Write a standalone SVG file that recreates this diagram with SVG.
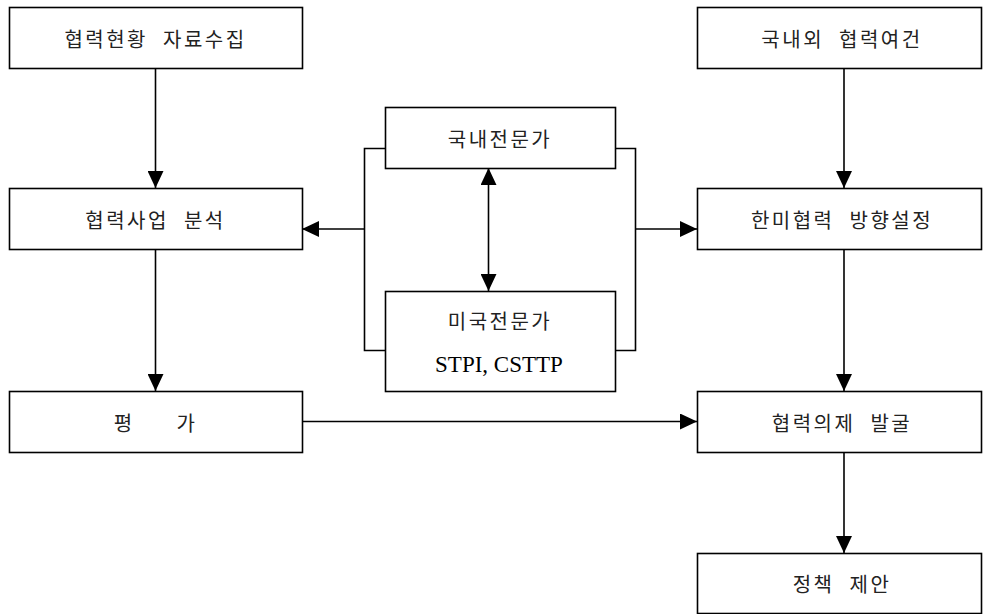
<svg xmlns="http://www.w3.org/2000/svg" width="983" height="614" viewBox="0 0 983 614">
<style>
.box{fill:#fff;stroke:#000;stroke-width:1.6}
.kt{font-family:"Noto Sans CJK KR","Noto Sans",sans-serif;font-size:20px;letter-spacing:2.5px;word-spacing:8px;text-anchor:middle;dominant-baseline:central;fill:#222}
.et{font-family:"Liberation Serif",serif;font-size:23px;text-anchor:middle;fill:#000}
.ln{fill:none;stroke:#000;stroke-width:1.6}
</style>
<defs>
<marker id="ah" markerUnits="userSpaceOnUse" markerWidth="17" markerHeight="16" refX="17" refY="8" orient="auto-start-reverse">
<path d="M0,0 L17,8 L0,16 z" fill="#000"/>
</marker>
</defs>
<rect width="983" height="614" fill="#fff"/>
<g id="connectors">
<line class="ln" x1="155.5" y1="68" x2="155.5" y2="188" marker-end="url(#ah)"/>
<line class="ln" x1="155.5" y1="249" x2="155.5" y2="391" marker-end="url(#ah)"/>
<line class="ln" x1="844" y1="68" x2="844" y2="188" marker-end="url(#ah)"/>
<line class="ln" x1="844" y1="249" x2="844" y2="391" marker-end="url(#ah)"/>
<line class="ln" x1="844" y1="452" x2="844" y2="553" marker-end="url(#ah)"/>
<line class="ln" x1="302" y1="421.5" x2="697" y2="421.5" marker-end="url(#ah)"/>
<path class="ln" d="M385,148.5 H364.5 V350.5 H385"/>
<path class="ln" d="M615,148.5 H635.5 V350.5 H615"/>
<line class="ln" x1="364.5" y1="229" x2="302" y2="229" marker-end="url(#ah)"/>
<line class="ln" x1="635.5" y1="229" x2="697" y2="229" marker-end="url(#ah)"/>
<line class="ln" x1="488.5" y1="168" x2="488.5" y2="291" marker-start="url(#ah)" marker-end="url(#ah)"/>
</g>
<g id="n1"><rect class="box" x="9.5" y="7.5" width="293" height="61"/><text class="kt" x="155.5" y="38">협력현황 자료수집</text></g>
<g id="n2"><rect class="box" x="9.5" y="188.5" width="293" height="61"/><text class="kt" x="155.5" y="219">협력사업 분석</text></g>
<g id="n3"><rect class="box" x="9.5" y="391.5" width="293" height="61"/><text class="kt" x="155.5" y="422" style="word-spacing:0" xml:space="preserve">평      가</text></g>
<g id="n4"><rect class="box" x="697.5" y="7.5" width="284" height="61"/><text class="kt" x="842" y="38">국내외 협력여건</text></g>
<g id="n5"><rect class="box" x="697.5" y="188.5" width="284" height="61"/><text class="kt" x="842" y="219">한미협력 방향설정</text></g>
<g id="n6"><rect class="box" x="697.5" y="391.5" width="284" height="61"/><text class="kt" x="842" y="422">협력의제 발굴</text></g>
<g id="n7"><rect class="box" x="697.5" y="553.5" width="284" height="60"/><text class="kt" x="842" y="583">정책 제안</text></g>
<g id="n8"><rect class="box" x="385.5" y="107.5" width="230" height="61"/><text class="kt" x="500" y="138">국내전문가</text></g>
<g id="n9"><rect class="box" x="385.5" y="291.5" width="230" height="100"/><text class="kt" x="500" y="320">미국전문가</text><text class="et" x="499" y="372">STPI, CSTTP</text></g>
</svg>
